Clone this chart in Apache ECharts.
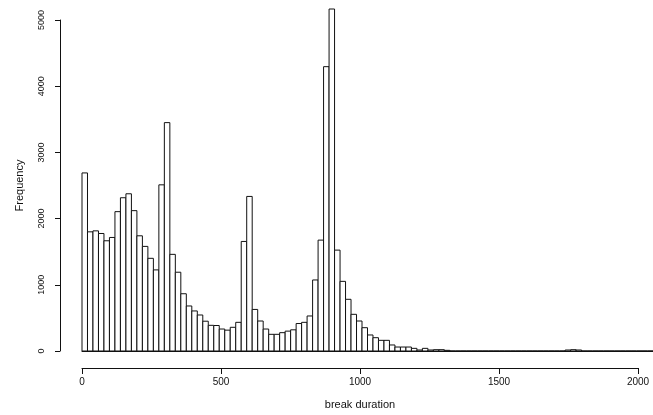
<!DOCTYPE html>
<html>
<head>
<meta charset="utf-8">
<script src="https://cdn.jsdelivr.net/npm/echarts@6/dist/echarts.min.js"></script>
<style>
  html, body { margin: 0; padding: 0; background: #fff; }
  #chart { width: 653px; height: 415px; }
</style>
</head>
<body>
<div id="chart"></div>
<script>
// Histogram of break durations, bins of width 20 starting at 0.
const binWidth = 20;
const binStarts = [];
for (let i = 0; i < 104; i++) binStarts.push(i * binWidth);

const counts = [
  2690, 1800, 1815, 1775, 1665, 1715, 2105, 2315, 2375, 2120,
  1740, 1580, 1400, 1225, 2510, 3450, 1460, 1190, 865, 680,
  605, 544, 450, 388, 385, 332, 315, 358, 433, 1655,
  2335, 628, 453, 332, 252, 252, 277, 300, 320, 415,
  433, 529, 1073, 1675, 4295, 5166, 1524, 1052, 781, 554,
  453, 352, 242, 201, 161, 161, 91, 60, 60, 60,
  40, 15, 40, 15, 20, 20, 10, 0, 0, 0,
  0, 0, 0, 0, 0, 0, 0, 0, 0, 0,
  0, 0, 0, 0, 0, 0, 0, 0, 15, 20,
  15, 0, 0, 0, 0, 0, 0, 0, 0, 0,
  0, 0, 0, 0
];

const xTicks = [0, 500, 1000, 1500, 2000];
const yTicks = [0, 1000, 2000, 3000, 4000, 5000];

const font = 'Liberation Sans, Arial, Helvetica, sans-serif';
const ink = '#111';
const plain = v => String(v);

const barData = binStarts.map((s, i) => [s, s + binWidth, counts[i]]);

const chart = echarts.init(document.getElementById('chart'), null, { renderer: 'canvas' });
chart.setOption({
  backgroundColor: '#fff',
  animation: false,
  grid: [
    { left: 82, top: 20, width: 578, bottom: 64 },
    { left: 82, width: 556, bottom: 47, height: 1 }
  ],
  xAxis: [
    {
      gridIndex: 0, type: 'value', min: 0, max: 2080,
      axisLine: { show: true, onZero: false, lineStyle: { color: ink, width: 1 } },
      axisTick: { show: false }, axisLabel: { show: false }, splitLine: { show: false }
    },
    {
      gridIndex: 1, type: 'value', min: xTicks[0], max: xTicks[xTicks.length - 1], interval: 500,
      position: 'bottom',
      axisLine: { show: true, onZero: false, lineStyle: { color: ink, width: 1 } },
      axisTick: { show: true, length: 6, lineStyle: { color: ink } },
      axisLabel: { color: ink, fontFamily: font, fontSize: 10, margin: 9, formatter: plain },
      splitLine: { show: false },
      name: 'break duration', nameLocation: 'middle', nameGap: 31,
      nameTextStyle: { color: ink, fontFamily: font, fontSize: 11 }
    }
  ],
  yAxis: [
    {
      gridIndex: 0, type: 'value', min: yTicks[0], max: yTicks[yTicks.length - 1], interval: 1000,
      offset: 22,
      axisLine: { show: true, onZero: false, lineStyle: { color: ink, width: 1 } },
      axisTick: { show: true, length: 5, lineStyle: { color: ink } },
      axisLabel: { color: ink, fontFamily: font, fontSize: 9, rotate: 90, margin: 14, formatter: plain },
      splitLine: { show: false },
      name: 'Frequency', nameLocation: 'middle', nameRotate: 90, nameGap: 35,
      nameTextStyle: { color: ink, fontFamily: font, fontSize: 11 }
    },
    {
      gridIndex: 1, type: 'value', show: false
    }
  ],
  series: [
    {
      type: 'custom',
      xAxisIndex: 0, yAxisIndex: 0,
      clip: false,
      data: barData,
      renderItem: function (params, api) {
        const p0 = api.coord([api.value(0), 0]);
        const p1 = api.coord([api.value(1), api.value(2)]);
        return {
          type: 'rect',
          shape: { x: p0[0], y: p1[1], width: p1[0] - p0[0], height: p0[1] - p1[1] },
          style: { fill: '#fff', stroke: ink, lineWidth: 1 }
        };
      }
    }
  ]
});
</script>
</body>
</html>
